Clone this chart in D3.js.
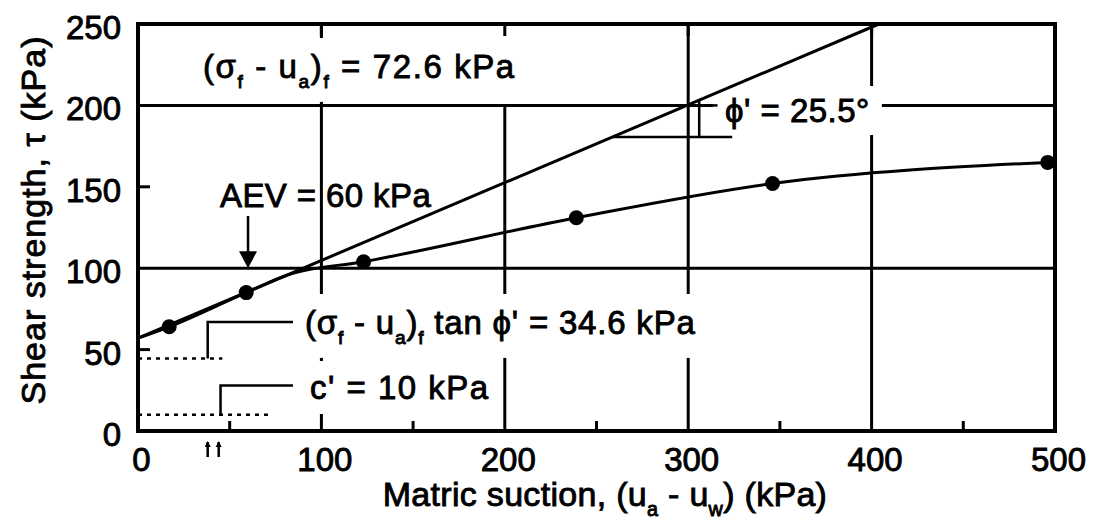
<!DOCTYPE html>
<html>
<head>
<meta charset="utf-8">
<script src="https://cdn.jsdelivr.net/npm/d3@7"></script>
<style>
  html, body { margin: 0; padding: 0; background: #fff; }
  svg { display: block; }
  text { font-family: "Liberation Sans", Arial, Helvetica, sans-serif; fill: #000; stroke: #000; stroke-width: 0.9px; }
</style>
</head>
<body>
<svg id="chart" width="1093" height="524"></svg>
<script>
// ---- axis ticks and grid ----
const xTickValues = [0, 100, 200, 300, 400, 500];
const yTickValues = [0, 50, 100, 150, 200, 250];
const xMinorTicks = [50, 150, 250, 350, 450];
const yMinorTicks = [50, 150];
const xGridValues = [100, 300, 400];
const yGridValues = [100, 200];

// ---- failure envelope (straight line, phi' = 25.5 deg) ----
const envelopeSuction = [0, 404];
const envelopeStrength = [57, 250];

// ---- measured shear strength vs matric suction ----
const testSuction = [17, 59, 123, 239, 346, 496];
const testStrength = [64, 85, 104, 131, 152, 165];

// ---- fitted curve through the tests ----
const curveSuction = [0, 17, 59, 82, 123, 239, 346, 496];
const curveStrength = [57, 64, 85, 96, 104, 131, 152, 165];

// ---- intercept components ----
const cohesion = 10;            // c'
const suctionTerm = 34.6;       // (sf - ua)f tan phi'
const aev = 60;                 // air-entry value

const svg = d3.select("#chart");

const x = d3.scaleLinear().domain([0, 500]).range([138, 1055]);
const y = d3.scaleLinear().domain([0, 250]).range([431, 24]);

const FS = 33;

// ---- grid ----
const grid = svg.append("g").attr("stroke", "#000").attr("stroke-width", 3);
grid.selectAll("line.vx").data(xGridValues).enter().append("line")
  .attr("x1", d => x(d)).attr("x2", d => x(d))
  .attr("y1", y(0)).attr("y2", y(250));
// the 200 kPa suction line stops at the 200 kPa strength line
grid.append("line")
  .attr("x1", x(200)).attr("x2", x(200))
  .attr("y1", y(0)).attr("y2", y(200));
grid.selectAll("line.hy").data(yGridValues).enter().append("line")
  .attr("x1", x(0)).attr("x2", x(500))
  .attr("y1", d => y(d)).attr("y2", d => y(d));

// minor inward ticks
const ticks = svg.append("g").attr("stroke", "#000").attr("stroke-width", 3);
ticks.selectAll("line.mx").data(xMinorTicks).enter().append("line")
  .attr("x1", d => x(d)).attr("x2", d => x(d))
  .attr("y1", y(0)).attr("y2", y(0) - 10);
ticks.selectAll("line.my").data(yMinorTicks).enter().append("line")
  .attr("x1", x(0)).attr("x2", x(0) + 12)
  .attr("y1", d => y(d)).attr("y2", d => y(d));
ticks.selectAll("line.tx").data([100, 200, 300, 400]).enter().append("line")
  .attr("x1", d => x(d)).attr("x2", d => x(d))
  .attr("y1", y(250)).attr("y2", y(250) + 12);

// ---- helpers for text with subscripts ----
function rich(sel, parts, size) {
  let shift = 0;
  parts.forEach(p => {
    const target = p.sub ? size * 0.3 : 0;
    sel.append("tspan")
      .attr("dy", target - shift)
      .style("font-size", p.sub ? (size * 0.58) + "px" : null)
      .text(p.t);
    shift = target;
  });
  return sel;
}

// ---- annotation labels (white background hides the grid behind them) ----
const annoBg = svg.append("g");
const annoLines = svg.append("g");
const annoText = svg.append("g");

function label(xpx, ypx, parts, opts) {
  const t = annoText.append("text")
    .attr("x", xpx).attr("y", ypx)
    .style("font-size", FS + "px")
    .style("letter-spacing", (opts.ls || 0) + "px");
  rich(t, parts, FS);
  if (opts.bg) {
    const b = t.node().getBBox();
    annoBg.append("rect")
      .attr("x", b.x - opts.bg[0]).attr("y", b.y - opts.bg[1])
      .attr("width", b.width + 2 * opts.bg[0]).attr("height", b.height + 2 * opts.bg[1])
      .attr("fill", "#fff");
  }
  return t;
}

label(203, 78, [
  {t: "(σ"}, {t: "f", sub: true}, {t: " - u"}, {t: "a", sub: true},
  {t: ")"}, {t: "f", sub: true}, {t: " = 72.6 kPa"}
], {ls: 1.6, bg: [8, 10]});

label(725, 122, [{t: "ϕ' = 25.5°"}], {ls: 0.5, bg: [12, 6]});

label(220, 207, [{t: "AEV = 60 kPa"}], {ls: 0.4});

label(305, 334, [
  {t: "(σ"}, {t: "f", sub: true}, {t: " - u"}, {t: "a", sub: true},
  {t: ")"}, {t: "f", sub: true}, {t: " tan ϕ' = 34.6 kPa"}
], {ls: 0.8, bg: [8, 10]});

label(310, 399, [{t: "c' = 10 kPa"}], {ls: 1.5, bg: [8, 8]});

// dotted levels at c' and c' + (sf - ua)f tan phi'
const dotted = annoLines.append("g").attr("stroke", "#000").attr("stroke-width", 2.5)
  .attr("stroke-dasharray", "4,5");
dotted.append("line").attr("x1", x(0)).attr("x2", x(46))
  .attr("y1", y(cohesion + suctionTerm)).attr("y2", y(cohesion + suctionTerm));
dotted.append("line").attr("x1", x(0)).attr("x2", x(72))
  .attr("y1", y(cohesion)).attr("y2", y(cohesion));

// leader lines to the two intercept labels
const leader = d3.line().x(d => x(d[0])).y(d => y(d[1]));
annoLines.append("path")
  .attr("d", leader([[38, cohesion + suctionTerm], [38, 67], [84.5, 67]]))
  .attr("fill", "none").attr("stroke", "#000").attr("stroke-width", 2.5);
annoLines.append("path")
  .attr("d", leader([[45, cohesion], [45, 28], [84.5, 28]]))
  .attr("fill", "none").attr("stroke", "#000").attr("stroke-width", 2.5);

// small marks under the axis at the leader positions
[38, 44].forEach(v => {
  annoLines.append("line").attr("x1", x(v)).attr("x2", x(v))
    .attr("y1", y(0) + 11).attr("y2", y(0) + 26)
    .attr("stroke", "#000").attr("stroke-width", 2.5);
  annoLines.append("path")
    .attr("d", `M${x(v) - 3},${y(0) + 16}L${x(v)},${y(0) + 10}L${x(v) + 3},${y(0) + 16}Z`)
    .attr("fill", "#000");
});

// AEV arrow
const ax = x(aev);
annoLines.append("line").attr("x1", ax).attr("x2", ax)
  .attr("y1", 216).attr("y2", y(100) - 12)
  .attr("stroke", "#000").attr("stroke-width", 2.5);
annoLines.append("path")
  .attr("d", `M${ax - 9},${y(100) - 17}L${ax + 9},${y(100) - 17}L${ax},${y(100)}Z`)
  .attr("fill", "#000");

// slope triangle for phi'
const envSlope = (envelopeStrength[1] - envelopeStrength[0]) / (envelopeSuction[1] - envelopeSuction[0]);
const triBase = 180.6;
const triLeft = (triBase - envelopeStrength[0]) / envSlope;
const triVert = 306;
annoLines.append("line")
  .attr("x1", x(triLeft)).attr("x2", x(324)).attr("y1", y(triBase)).attr("y2", y(triBase))
  .attr("stroke", "#000").attr("stroke-width", 2.5);
annoLines.append("line")
  .attr("x1", x(triVert)).attr("x2", x(triVert))
  .attr("y1", y(triBase)).attr("y2", y(envelopeStrength[0] + envSlope * triVert))
  .attr("stroke", "#000").attr("stroke-width", 2.5);
annoLines.append("line")
  .attr("x1", x(triVert)).attr("x2", x(316))
  .attr("y1", y(200)).attr("y2", y(200))
  .attr("stroke", "#000").attr("stroke-width", 2.5);

// ---- data lines ----
const envData = envelopeSuction.map((s, i) => [s, envelopeStrength[i]]);
const curveData = curveSuction.map((s, i) => [s, curveStrength[i]]);
const testData = testSuction.map((s, i) => [s, testStrength[i]]);

svg.append("path")
  .attr("d", d3.line().x(d => x(d[0])).y(d => y(d[1]))(envData))
  .attr("fill", "none").attr("stroke", "#000").attr("stroke-width", 3);

svg.append("path")
  .attr("d", d3.line().curve(d3.curveMonotoneX).x(d => x(d[0])).y(d => y(d[1]))(curveData))
  .attr("fill", "none").attr("stroke", "#000").attr("stroke-width", 3);

svg.append("g").selectAll("circle").data(testData).enter().append("circle")
  .attr("cx", d => x(d[0])).attr("cy", d => y(d[1])).attr("r", 7.5)
  .attr("fill", "#000");

// ---- frame ----
svg.append("rect")
  .attr("x", x(0)).attr("y", y(250))
  .attr("width", x(500) - x(0)).attr("height", y(0) - y(250))
  .attr("fill", "none").attr("stroke", "#000").attr("stroke-width", 4);

// ---- axes (labels only) ----
const xAxis = d3.axisBottom(x).tickValues(xTickValues).tickSize(0).tickPadding(17);
const gx = svg.append("g").attr("transform", `translate(3,${y(0)})`).call(xAxis);
gx.select(".domain").remove();
gx.selectAll("text").style("font-size", FS + "px").attr("font-family", null);

const yAxis = d3.axisLeft(y).tickValues(yTickValues).tickSize(0).tickPadding(17);
const gy = svg.append("g").attr("transform", `translate(${x(0)},4)`).call(yAxis);
gy.select(".domain").remove();
gy.selectAll("text").style("font-size", FS + "px").attr("font-family", null);

// ---- axis titles ----
const xt = svg.append("text")
  .attr("x", 605).attr("y", 506)
  .attr("text-anchor", "middle")
  .style("font-size", "34px").style("letter-spacing", "0.3px");
rich(xt, [
  {t: "Matric suction, (u"}, {t: "a", sub: true}, {t: " - u"}, {t: "w", sub: true}, {t: ") (kPa)"}
], 34);

svg.append("text")
  .attr("transform", "translate(45,220) rotate(-90)")
  .attr("text-anchor", "middle")
  .style("font-size", "34px").style("letter-spacing", "1px")
  .text("Shear strength, τ  (kPa)");
</script>
</body>
</html>
